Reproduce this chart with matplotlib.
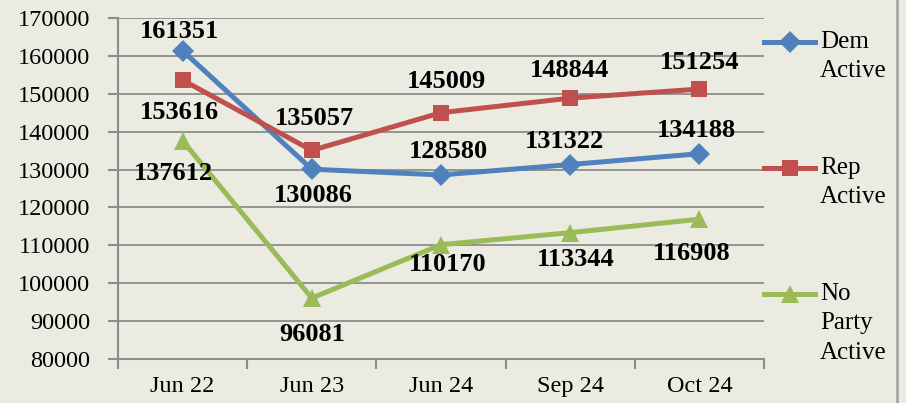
import matplotlib.pyplot as plt
from matplotlib.lines import Line2D

months = ["Jun 22", "Jun 23", "Jun 24", "Sep 24", "Oct 24"]
dem_active = [161351, 130086, 128580, 131322, 134188]
rep_active = [153616, 135057, 145009, 148844, 151254]
no_party_active = [137612, 96081, 110170, 113344, 116908]
series_names = ["Dem\nActive", "Rep\nActive", "No\nParty\nActive"]

# label offsets in pixels (dx, dy of the digits' centre from the point)
dem_offsets = [(-3, 21), (2, -25), (7, 25), (-6, 25), (-3, 25)]
rep_offsets = [(-3, -31), (3, 33), (5, 33), (-1, 29), (0, 28)]
np_offsets = [(-9, -31), (0, -35), (7, -18), (6, -25), (-8, -33)]

BG = "#ECEBE1"
GRID = "#8C8C8C"
LEG_SIZE = 18
LEG_LINESPACING = 1.42
LINE_STEP_PT = 21.0  # distance between legend text lines, points

plt.rcParams["font.family"] = ["Liberation Serif", "DejaVu Serif"]


def draw_series(ax, values, offsets, color, marker, msize, name):
    x = list(range(len(values)))
    ax.plot(x, values, color=color, lw=3.6, marker=marker, ms=msize,
            markeredgewidth=0, label=name, zorder=3)
    for xi, v, (dx, dy) in zip(x, values, offsets):
        ax.annotate(str(v), (xi, v), xytext=(dx, dy - 8),
                    textcoords="offset pixels", ha="center", va="baseline",
                    fontsize=19, fontweight="bold", color="black", zorder=4)


fig = plt.figure(figsize=(9.06, 4.03), dpi=100, facecolor=BG)
ax = fig.add_axes([118 / 906, 1 - 359 / 403, 646 / 906, 341 / 403])
ax.set_facecolor(BG)

draw_series(ax, dem_active, dem_offsets, "#4F81BD", "D", 11, series_names[0])
draw_series(ax, rep_active, rep_offsets, "#C0504D", "s", 11, series_names[1])
draw_series(ax, no_party_active, np_offsets, "#9BBB59", "^", 13, series_names[2])

ax.set_xlim(-0.5, len(months) - 0.5)
ax.set_ylim(80000, 170000)
ax.set_yticks(range(80000, 170001, 10000))
ax.set_xticks(range(len(months)))
ax.set_xticklabels(months)
ax.set_xticks([i - 0.5 for i in range(len(months) + 1)], minor=True)

ax.grid(axis="y", color=GRID, lw=1.3, zorder=0)
ax.set_axisbelow(True)
for side in ["top", "right"]:
    ax.spines[side].set_visible(False)
for side in ["left", "bottom"]:
    ax.spines[side].set_color(GRID)
    ax.spines[side].set_linewidth(1.5)

ax.tick_params(axis="y", length=7, width=1.5, color=GRID, labelsize=17.5, pad=13)
ax.tick_params(axis="x", which="major", length=0, labelsize=17.5, pad=12)
ax.tick_params(axis="x", which="minor", length=7, width=1.5, color=GRID)

leg = ax.legend(loc="upper left", bbox_to_anchor=(1.0, 0.962), frameon=False,
                fontsize=LEG_SIZE, handlelength=2.05, handletextpad=0.2,
                labelspacing=3.0, borderaxespad=0, borderpad=0)
# handles sit at the middle of the label block; lift them to the first line
for text, handle in zip(leg.get_texts(), leg.legend_handles):
    text.set_linespacing(LEG_LINESPACING)
    nlines = text.get_text().count("\n")
    handle.set_ydata(handle.get_ydata() + nlines * LINE_STEP_PT / 2)

fig.add_artist(Line2D([897 / 906, 897 / 906], [0, 1], color="#A6A6A6", lw=2))

fig.savefig("out.png", dpi=100, facecolor=BG)
